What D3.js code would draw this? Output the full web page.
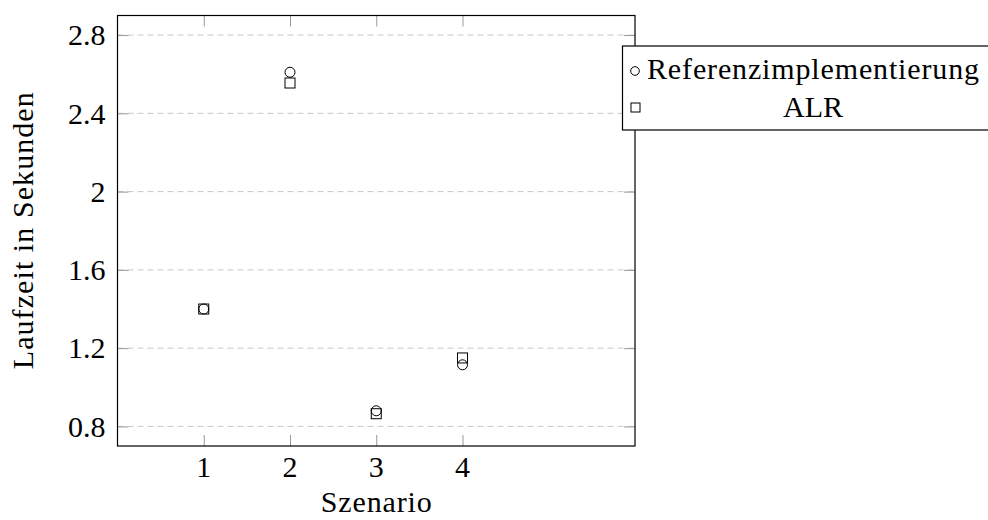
<!DOCTYPE html>
<meta charset="utf-8" />
<head>
  <script src="https://d3js.org/d3.v7.min.js"></script>
  <style>
    body { margin: 0; background: #fff; }
    text { font-family: "Liberation Serif", "DejaVu Serif", serif; fill: #000; }
  </style>
</head>
<body>
  <div id="my_data"></div>
</body>
<script>
  // data
  var scenarios = [1, 2, 3, 4];
  var refValues = [1.40, 2.61, 0.88, 1.115];
  var alrValues = [1.40, 2.555, 0.865, 1.15];
  var yTicks = [0.8, 1.2, 1.6, 2, 2.4, 2.8];
  var seriesNames = ["Referenzimplementierung", "ALR"];

  var margin = { top: 15.5, right: 353, bottom: 74, left: 117.5 },
    width = 988 - margin.left - margin.right,
    height = 520 - margin.top - margin.bottom;

  var root = d3
    .select("#my_data")
    .append("svg")
    .attr("width", 988)
    .attr("height", 520);

  var svg = root
    .append("g")
    .attr("transform", "translate(" + margin.left + "," + margin.top + ")");

  var x = d3.scaleLinear().domain([0, 6]).range([0, width]);
  var y = d3.scaleLinear().domain([0.7, 2.9]).range([height, 0]);

  // dashed grid
  svg
    .append("g")
    .selectAll("line")
    .data(yTicks)
    .enter()
    .append("line")
    .attr("x1", 0)
    .attr("x2", width)
    .attr("y1", function (d) { return y(d); })
    .attr("y2", function (d) { return y(d); })
    .attr("stroke", "#c8c8c8")
    .attr("stroke-width", 1)
    .attr("stroke-dasharray", "6,4");

  // inward ticks on all sides
  var tickLen = 11;
  function ticks(axis, scale, vals) {
    return axis(scale).tickValues(vals).tickSize(-tickLen).tickFormat("");
  }
  var tickStyle = function (g) {
    g.select(".domain").remove();
    g.selectAll(".tick line").attr("stroke", "#999").attr("stroke-width", 1);
  };
  svg.append("g").attr("transform", "translate(0," + height + ")")
    .call(ticks(d3.axisBottom, x, scenarios)).call(tickStyle);
  svg.append("g")
    .call(ticks(d3.axisTop, x, scenarios)).call(tickStyle);
  svg.append("g")
    .call(ticks(d3.axisLeft, y, yTicks)).call(tickStyle);
  svg.append("g").attr("transform", "translate(" + width + ",0)")
    .call(ticks(d3.axisRight, y, yTicks)).call(tickStyle);

  // frame
  svg
    .append("rect")
    .attr("width", width)
    .attr("height", height)
    .attr("fill", "none")
    .attr("stroke", "#000")
    .attr("stroke-width", 1.2);

  // tick labels
  svg
    .append("g")
    .selectAll("text")
    .data(yTicks)
    .enter()
    .append("text")
    .attr("x", -12)
    .attr("y", function (d) { return y(d); })
    .attr("dy", "0.34em")
    .attr("text-anchor", "end")
    .style("font-size", "30px")
    .text(function (d) { return d; });

  svg
    .append("g")
    .selectAll("text")
    .data(scenarios)
    .enter()
    .append("text")
    .attr("x", function (d) { return x(d); })
    .attr("y", height + 31)
    .attr("text-anchor", "middle")
    .style("font-size", "30px")
    .text(function (d) { return d; });

  // axis labels
  svg
    .append("text")
    .attr("x", width / 2)
    .attr("y", 512 - margin.top)
    .attr("text-anchor", "middle")
    .attr("textLength", 111)
    .attr("lengthAdjust", "spacing")
    .style("font-size", "30px")
    .text("Szenario");

  svg
    .append("text")
    .attr("transform", "rotate(-90)")
    .attr("x", -height / 2)
    .attr("y", 33 - margin.left)
    .attr("text-anchor", "middle")
    .attr("textLength", 277)
    .attr("lengthAdjust", "spacing")
    .style("font-size", "30px")
    .text("Laufzeit in Sekunden");

  // markers
  var refData = scenarios.map(function (s, i) { return { s: s, v: refValues[i] }; });
  var alrData = scenarios.map(function (s, i) { return { s: s, v: alrValues[i] }; });
  var sq = 10;

  svg
    .append("g")
    .selectAll("rect")
    .data(alrData)
    .enter()
    .append("rect")
    .attr("x", function (d) { return x(d.s) - sq / 2; })
    .attr("y", function (d) { return y(d.v) - sq / 2; })
    .attr("width", sq)
    .attr("height", sq)
    .attr("fill", "none")
    .attr("stroke", "#000")
    .attr("stroke-width", 1);

  svg
    .append("g")
    .selectAll("circle")
    .data(refData)
    .enter()
    .append("circle")
    .attr("cx", function (d) { return x(d.s); })
    .attr("cy", function (d) { return y(d.v); })
    .attr("r", 5)
    .attr("fill", "none")
    .attr("stroke", "#000")
    .attr("stroke-width", 1);

  // legend
  var legend = root.append("g");
  legend
    .append("rect")
    .attr("x", 622.5)
    .attr("y", 46)
    .attr("width", 400)
    .attr("height", 84)
    .attr("fill", "#fff")
    .attr("stroke", "#000")
    .attr("stroke-width", 1.2);

  legend
    .append("circle")
    .attr("cx", 635)
    .attr("cy", 71)
    .attr("r", 4.3)
    .attr("fill", "none")
    .attr("stroke", "#000");
  legend
    .append("rect")
    .attr("x", 631)
    .attr("y", 103)
    .attr("width", 9)
    .attr("height", 9)
    .attr("fill", "none")
    .attr("stroke", "#000");

  var textW = 332;
  legend
    .append("text")
    .attr("x", 647)
    .attr("y", 79)
    .attr("textLength", textW)
    .attr("lengthAdjust", "spacing")
    .style("font-size", "30px")
    .text(seriesNames[0]);
  legend
    .append("text")
    .attr("x", 647 + textW / 2)
    .attr("y", 116.5)
    .attr("text-anchor", "middle")
    .attr("textLength", 60)
    .attr("lengthAdjust", "spacing")
    .style("font-size", "30px")
    .text(seriesNames[1]);
</script>
